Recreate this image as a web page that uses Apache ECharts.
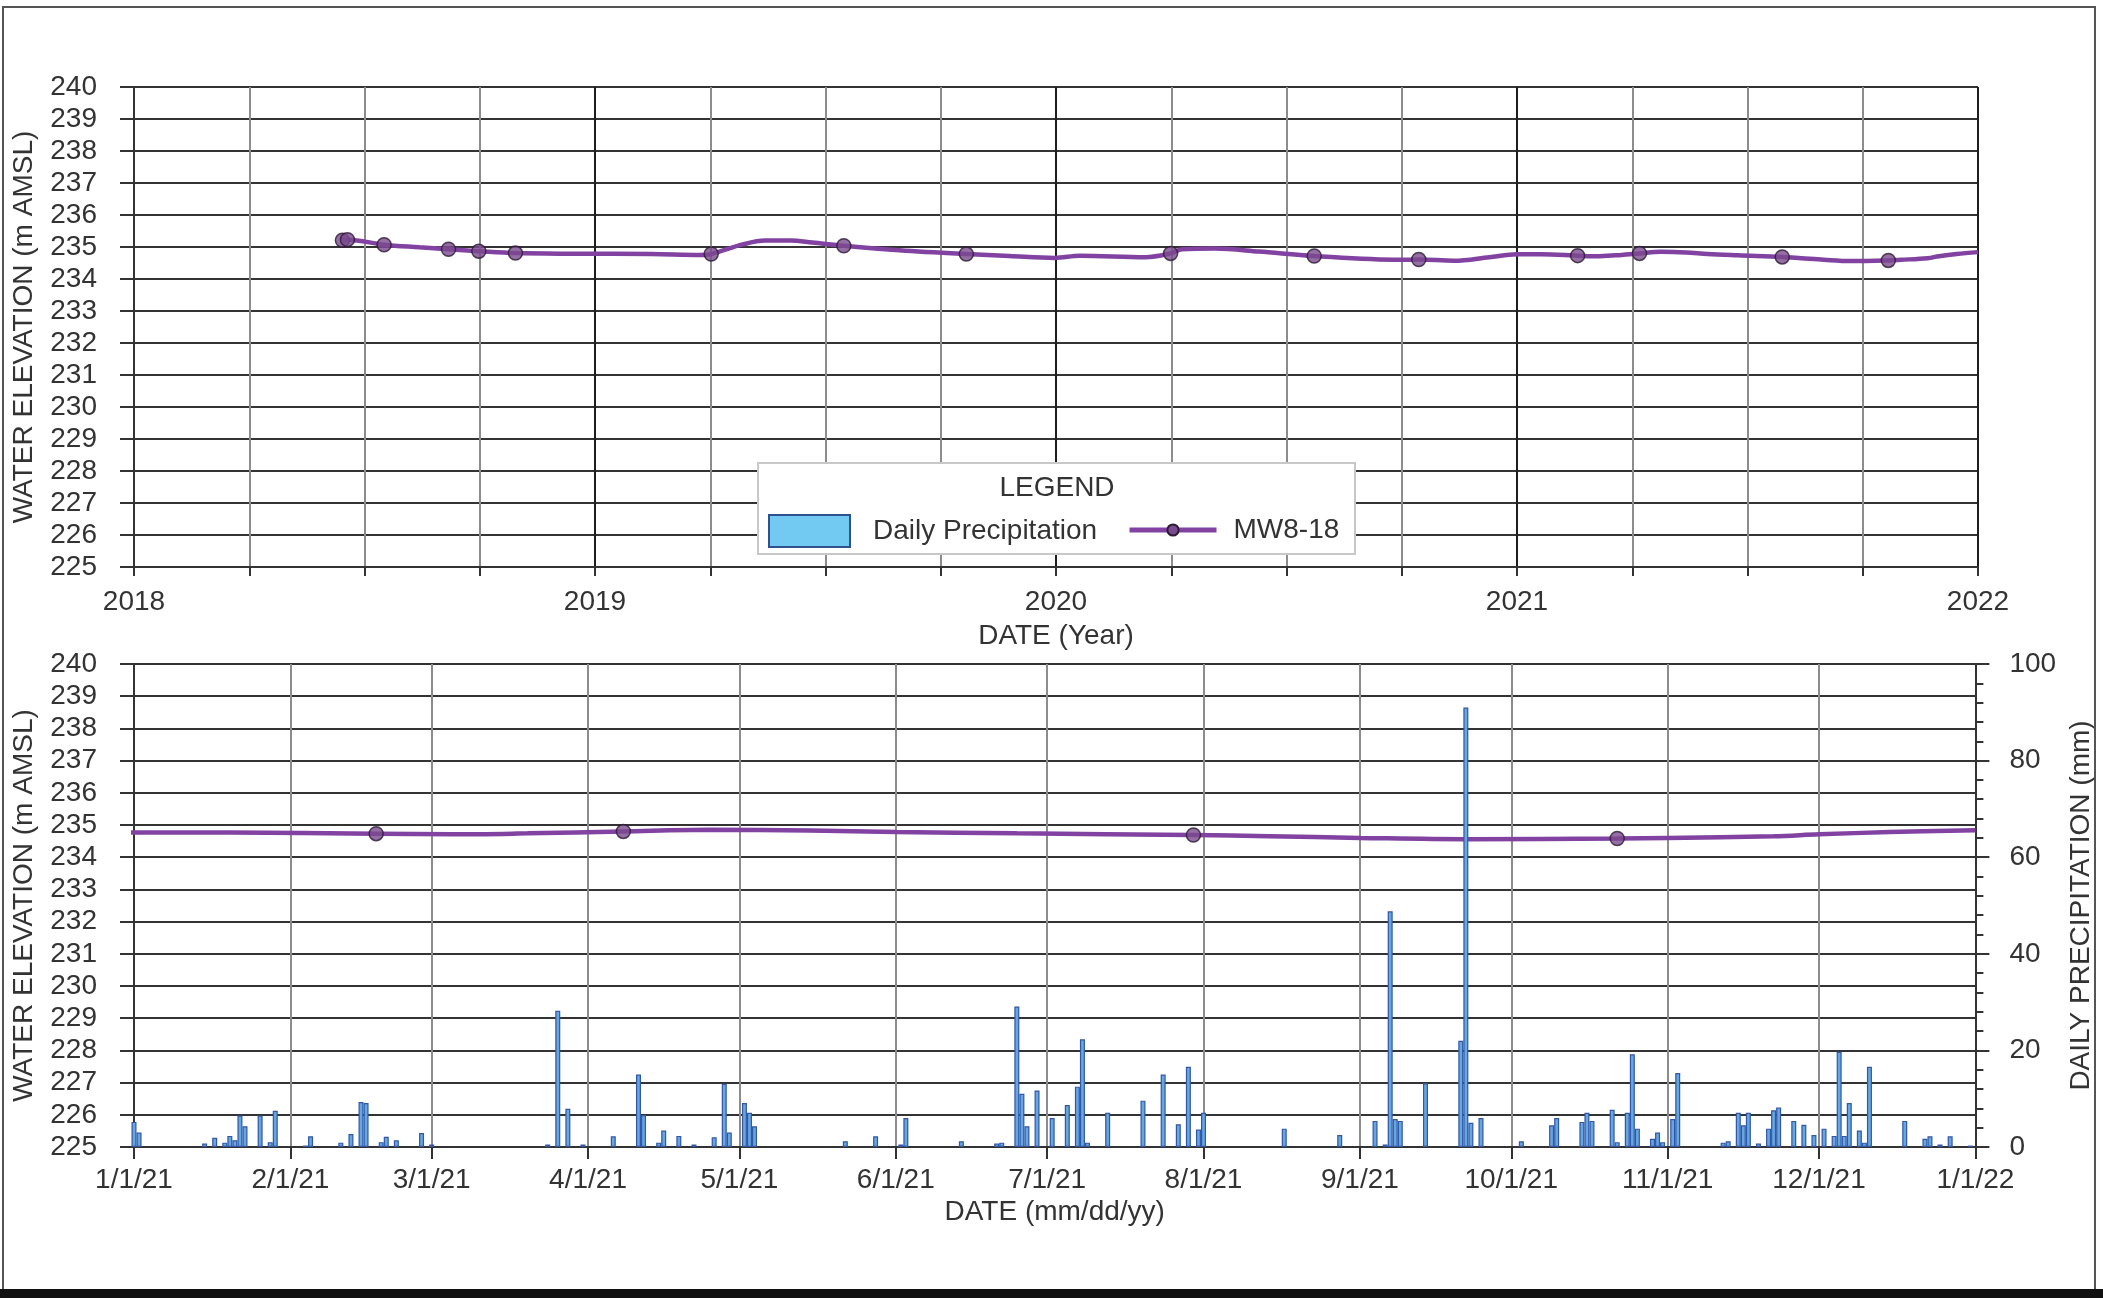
<!DOCTYPE html>
<html>
<head>
<meta charset="utf-8">
<script src="https://cdn.jsdelivr.net/npm/echarts@6/dist/echarts.min.js"></script>
<style>
html,body{margin:0;padding:0;background:#fff;}
#chart{width:2103px;height:1298px;}
</style>
</head>
<body>
<div id="chart"></div>
<script>
// ---------- DATA ----------
// Continuous water level trace (MW8-18), m AMSL
const traceDates = ['2018-06-15','2018-06-19','2018-07-18','2018-08-15','2018-09-07','2018-10-01','2018-10-30','2018-12-15',
  '2019-02-15','2019-03-25','2019-04-03','2019-04-28','2019-05-16','2019-06-05','2019-06-22','2019-07-17','2019-08-30',
  '2019-10-22','2019-11-25','2019-12-31','2020-01-20','2020-03-12','2020-04-01','2020-04-10','2020-05-06','2020-06-10',
  '2020-07-24','2020-09-30','2020-10-15','2020-11-12','2020-12-10','2021-01-01','2021-01-20','2021-02-18','2021-03-05',
  '2021-03-20','2021-04-08','2021-04-25','2021-05-15','2021-06-01','2021-06-25','2021-07-30','2021-08-14','2021-09-01',
  '2021-09-22','2021-10-22','2021-11-01','2021-11-22','2021-12-01','2021-12-15','2022-01-01'];
const traceLevels = [235.21,235.23,235.07,234.99,234.93,234.87,234.81,234.79,
  234.78,234.75,234.78,235.08,235.20,235.20,235.14,235.04,234.90,
  234.78,234.72,234.66,234.73,234.68,234.80,234.93,234.95,234.86,
  234.72,234.60,234.61,234.57,234.68,234.77,234.77,234.73,234.71,
  234.74,234.80,234.85,234.83,234.78,234.74,234.69,234.65,234.60,
  234.56,234.58,234.60,234.65,234.71,234.78,234.84];
// Manual measurements (markers)
const obsDates = ['2018-06-15','2018-06-19','2018-07-18','2018-09-07','2018-10-01','2018-10-30','2019-04-03','2019-07-17',
  '2019-10-22','2020-04-01','2020-07-24','2020-10-15','2021-02-18','2021-04-08','2021-07-30','2021-10-22'];
const obsLevels = [235.21,235.23,235.07,234.93,234.87,234.81,234.78,235.04,
  234.78,234.80,234.72,234.61,234.73,234.80,234.69,234.58];
// Daily precipitation 2021 (mm)
const precipDates = ['2021-01-01','2021-01-02','2021-01-15','2021-01-17','2021-01-19','2021-01-20','2021-01-21','2021-01-22',
  '2021-01-23','2021-01-26','2021-01-28','2021-01-29','2021-02-04','2021-02-05','2021-02-11','2021-02-13','2021-02-15',
  '2021-02-16','2021-02-19','2021-02-20','2021-02-22','2021-02-27','2021-03-01','2021-03-24','2021-03-26','2021-03-28',
  '2021-03-31','2021-04-06','2021-04-11','2021-04-12','2021-04-15','2021-04-16','2021-04-19','2021-04-22','2021-04-26',
  '2021-04-28','2021-04-29','2021-05-02','2021-05-03','2021-05-04','2021-05-22','2021-05-28','2021-06-02','2021-06-03',
  '2021-06-14','2021-06-21','2021-06-22','2021-06-25','2021-06-26','2021-06-27','2021-06-29','2021-07-02','2021-07-05',
  '2021-07-07','2021-07-08','2021-07-09','2021-07-13','2021-07-20','2021-07-24','2021-07-27','2021-07-29','2021-07-31',
  '2021-08-01','2021-08-17','2021-08-28','2021-09-04','2021-09-06','2021-09-07','2021-09-08','2021-09-09','2021-09-14',
  '2021-09-21','2021-09-22','2021-09-23','2021-09-25','2021-10-03','2021-10-09','2021-10-10','2021-10-15','2021-10-16',
  '2021-10-17','2021-10-21','2021-10-22','2021-10-24','2021-10-25','2021-10-26','2021-10-29','2021-10-30','2021-10-31',
  '2021-11-02','2021-11-03','2021-11-12','2021-11-13','2021-11-15','2021-11-16','2021-11-17','2021-11-19','2021-11-21',
  '2021-11-22','2021-11-23','2021-11-26','2021-11-28','2021-11-30','2021-12-02','2021-12-04','2021-12-05','2021-12-06',
  '2021-12-07','2021-12-09','2021-12-10','2021-12-11','2021-12-18','2021-12-22','2021-12-23','2021-12-25','2021-12-27',
  '2021-12-31'];
const precipMm = [5.2,3.0,0.7,1.9,0.9,2.3,1.4,6.5,
  4.3,6.5,1.0,7.5,0.3,2.2,0.9,2.7,9.3,
  9.1,1.0,2.1,1.4,2.9,0.5,0.5,28.2,7.9,
  0.5,2.2,15.0,6.6,0.9,3.4,2.3,0.5,2.0,
  13.1,3.0,9.1,7.1,4.3,1.2,2.2,0.5,6.0,
  1.2,0.7,0.9,29.1,11.0,4.3,11.7,6.0,8.7,
  12.5,22.3,0.9,7.1,9.6,15.0,4.7,16.6,3.6,
  7.1,3.8,2.5,5.4,0.5,48.8,5.8,5.4,13.2,
  22.0,91.0,5.0,6.0,1.2,4.5,6.0,5.2,7.1,
  5.4,7.7,1.0,7.1,19.2,3.8,1.7,3.0,1.0,
  5.8,15.3,0.9,1.2,7.1,4.5,7.1,0.7,3.8,
  7.6,8.2,5.4,4.6,2.5,3.8,2.3,19.7,2.3,
  9.1,3.4,0.9,16.6,5.4,1.7,2.2,0.5,2.2,
  0.3];
// Bottom-axis month ticks and their labels
const monthTickDates = ['2021-01-01','2021-02-01','2021-03-01','2021-04-01','2021-05-01','2021-06-01','2021-07-01',
  '2021-08-01','2021-09-01','2021-10-01','2021-11-01','2021-12-01','2022-01-01'];
const monthTickLabels = ['1/1/21','2/1/21','3/1/21','4/1/21','5/1/21','6/1/21','7/1/21',
  '8/1/21','9/1/21','10/1/21','11/1/21','12/1/21','1/1/22'];
const topRange = [2018, 2022];

// ---------- HELPERS ----------
const FONT = '"Liberation Sans", Arial, sans-serif';
const TXT = '#333';
function toUTC(s){
  const p = s.split('-').map(Number);
  return Date.UTC(p[0], p[1]-1, p[2]);
}
function toYear(s){
  const y = Number(s.slice(0,4));
  const a = Date.UTC(y,0,1), b = Date.UTC(y+1,0,1);
  return y + (toUTC(s) - a) / (b - a);
}
const DAY0 = toUTC(monthTickDates[0]);
function toDay(s){ return Math.round((toUTC(s) - DAY0) / 86400000); }
const monthTickDays = monthTickDates.map(toDay);
function dayLabel(v){
  const i = monthTickDays.indexOf(Math.round(v));
  return i >= 0 ? monthTickLabels[i] : '';
}
const traceTop = traceDates.map((d,i)=>[toYear(d), traceLevels[i]]);
const obsTop = obsDates.map((d,i)=>[toYear(d), obsLevels[i]]);
const traceBot = traceDates.map((d,i)=>[toDay(d), traceLevels[i]]);
const obsBot = obsDates.map((d,i)=>[toDay(d), obsLevels[i]]);
const precip = precipDates.map((d,i)=>[toDay(d), precipMm[i]]);

const LINE = '#8142a1';
const MARK = '#7a4a8e';
const axisLineStyle = {color:'#333', width:2};
const labelStyle = {fontSize:28, color:TXT, fontFamily:FONT};

function levelAxis(gridIndex){
  return {
    type:'value', gridIndex, min:225, max:240, interval:1,
    axisLine:{show:true, lineStyle:axisLineStyle},
    axisTick:{show:true, length:14, lineStyle:{color:'#333', width:2}},
    splitLine:{show:true, lineStyle:{color:'#333', width:2}},
    axisLabel:Object.assign({margin:37}, labelStyle),
    name:'WATER ELEVATION (m AMSL)', nameLocation:'middle', nameRotate:90, nameGap:96,
    nameTextStyle:{fontSize:28, color:TXT, fontFamily:FONT}
  };
}

const chart = echarts.init(document.getElementById('chart'), null, {renderer:'canvas'});
chart.setOption({
  animation:false,
  backgroundColor:'#ffffff',
  textStyle:{fontFamily:FONT},
  grid:[
    {left:134, top:87, width:1844, height:480},
    {left:134, top:664, width:1844, height:483}
  ],
  xAxis:[
    {
      type:'value', gridIndex:0, min:topRange[0], max:topRange[1], interval:1,
      axisLine:{lineStyle:axisLineStyle},
      axisTick:{show:true, length:9, lineStyle:{color:'#333', width:2}},
      minorTick:{show:true, splitNumber:4, length:9, lineStyle:{color:'#333', width:2}},
      splitLine:{show:true, lineStyle:{color:'#1e1e1e', width:2}},
      minorSplitLine:{show:true, lineStyle:{color:'#8c8c8c', width:2}},
      axisLabel:Object.assign({margin:21, formatter:v=>String(v)}, labelStyle),
      name:'DATE (Year)', nameLocation:'middle', nameGap:55,
      nameTextStyle:{fontSize:28, color:TXT, fontFamily:FONT}
    },
    {
      type:'value', gridIndex:1, min:monthTickDays[0], max:monthTickDays[monthTickDays.length-1],
      axisLine:{lineStyle:axisLineStyle},
      axisTick:{show:true, length:12, customValues:monthTickDays, lineStyle:{color:'#333', width:2}},
      splitLine:{show:true, lineStyle:{color:'#8c8c8c', width:2}},
      axisLabel:Object.assign({margin:19, customValues:monthTickDays, formatter:dayLabel, showMinLabel:true, showMaxLabel:true, hideOverlap:false}, labelStyle),
      name:'DATE (mm/dd/yy)', nameLocation:'middle', nameGap:51,
      nameTextStyle:{fontSize:28, color:TXT, fontFamily:FONT}
    }
  ],
  yAxis:[
    levelAxis(0),
    levelAxis(1),
    {
      type:'value', gridIndex:1, position:'right', min:0, max:100, interval:20,
      axisLine:{show:true, lineStyle:axisLineStyle},
      axisTick:{show:true, length:14, lineStyle:{color:'#333', width:2}},
      minorTick:{show:true, splitNumber:5, length:8, lineStyle:{color:'#333', width:2}},
      splitLine:{show:false},
      axisLabel:Object.assign({margin:34}, labelStyle),
      name:'DAILY PRECIPITATION (mm)', nameLocation:'middle', nameRotate:90, nameGap:87,
      nameTextStyle:{fontSize:28, color:TXT, fontFamily:FONT}
    }
  ],
  legend:[
    {
      data:[{name:'Daily Precipitation', icon:'rect', itemStyle:{color:'#72c9f1', borderColor:'#2f528f', borderWidth:2}}],
      left:768, top:514, padding:0, itemWidth:81, itemHeight:32, selectedMode:false, z:10,
      textStyle:{fontSize:28, color:TXT, fontFamily:FONT, padding:[0,0,0,18]}
    },
    {
      data:['MW8-18'],
      left:1127, top:516, padding:0, itemWidth:87, itemHeight:14, selectedMode:false, z:10,
      lineStyle:{width:5, color:LINE},
      textStyle:{fontSize:28, color:TXT, fontFamily:FONT, padding:[0,0,0,12]}
    }
  ],
  graphic:[
    {type:'rect', z:1, shape:{x:3, y:7, width:2092, height:1283}, style:{fill:'none', stroke:'#555', lineWidth:2}},
    {type:'rect', z:1, shape:{x:0, y:1289, width:2103, height:9}, style:{fill:'#111'}},
    {type:'rect', z:5, shape:{x:758, y:463, width:597, height:91}, style:{fill:'#fff', stroke:'#c8c8c8', lineWidth:2}},
    {type:'text', z:6, x:1057, y:488, style:{text:'LEGEND', fontSize:28, fontFamily:FONT, fill:TXT, align:'center', verticalAlign:'middle'}}
  ],
  series:[
    {
      name:'MW8-18', type:'line', xAxisIndex:0, yAxisIndex:0, data:traceTop,
      smooth:0.35, showSymbol:false, symbol:'circle', z:2,
      lineStyle:{color:LINE, width:4.5}, itemStyle:{color:MARK, borderColor:'#2b1b33', borderWidth:1}
    },
    {
      name:'MW8-18 measured', type:'scatter', xAxisIndex:0, yAxisIndex:0, data:obsTop,
      symbol:'circle', symbolSize:14, z:4,
      itemStyle:{color:MARK, borderColor:'#2b1b33', borderWidth:1.5}
    },
    {
      name:'Daily Precipitation', type:'bar', xAxisIndex:1, yAxisIndex:2, data:precip,
      barWidth:5, z:3,
      itemStyle:{color:'#64a8e2', borderColor:'#3356a6', borderWidth:1.2}
    },
    {
      name:'MW8-18', type:'line', xAxisIndex:1, yAxisIndex:1, data:traceBot,
      smooth:0.35, showSymbol:false, symbol:'circle', z:2,
      lineStyle:{color:LINE, width:4.5}, itemStyle:{color:MARK, borderColor:'#2b1b33', borderWidth:1}
    },
    {
      name:'MW8-18 measured', type:'scatter', xAxisIndex:1, yAxisIndex:1, data:obsBot,
      symbol:'circle', symbolSize:14, z:4,
      itemStyle:{color:MARK, borderColor:'#2b1b33', borderWidth:1.5}
    }
  ]
});
</script>
</body>
</html>
